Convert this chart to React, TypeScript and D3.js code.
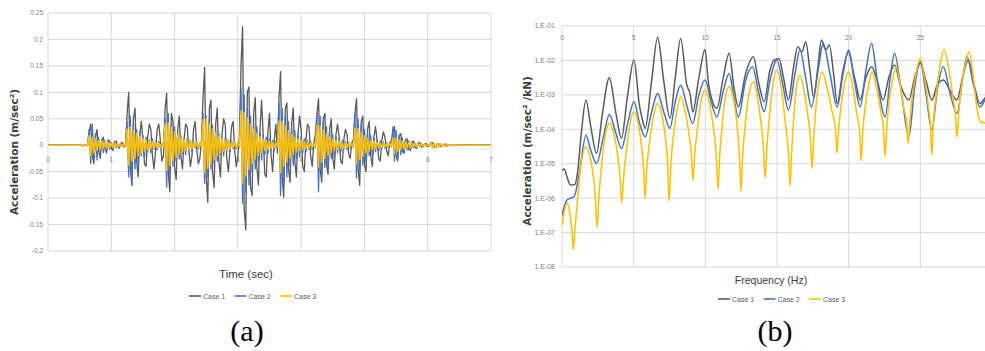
import React from 'react';
import * as d3 from 'd3';

const caseNames = ['Case 1', 'Case 2', 'Case 3'];
const caseColors = ['#5a5a5a', '#4472C4', '#FFC000'];

// (a) acceleration time history, one sample every 0.025 s from 0.5 s, in 1e-3 m/sec²
const sampleStart = 0.5;
const sampleStep = 0.025;
const timeEnd = 7;

const accCase1 = [
  0, 1, -1, 0, 1, -1,
  25, 40, -20, -35, 15, 30, -10, -25, 10, 15, -5, -15, 10, 8, -5, -10, 5, 8, 0, -6, 4, 5, -3, -2,
  60, 100, -40, -76, 50, 70, -30, -60, 20, 45, 10, -35, -40, 15, 40, 30, -20, -45, -10, 30, 40, 10, -30, -20,
  70, 98, -50, -88, 60, 45, -40, -65, 30, 55, -20, -45, 10, 40, 35, -10, -40, -20, 30, 45, -5, -35, -25, 10,
  90, 147, -60, -108, 70, 85, -50, -80, 40, 70, -30, -60, 20, 50, 40, -25, -50, -10, 35, 45, -10, -40, -20, 15,
  150, 224, -120, -160, 100, 110, -80, -95, 60, 90, -40, -75, 30, 85, 20, -55, -60, 25, 60, -20, -50, 10, 40, -15,
  90, 139, -60, -98, 70, 80, -45, -70, 40, 70, -30, -60, 20, 55, 30, -40, -50, 10, 40, 35, -20, -40, 5, 20,
  60, 88, -45, -70, 50, 60, -35, -55, 30, 50, -25, -45, 20, 40, 15, -30, -35, 10, 30, 20, -15, -25, 5, 10,
  60, 88, -45, -76, 45, 55, -35, -50, 30, 45, -20, -40, 15, 35, 10, -25, -30, 10, 25, 15, -10, -20, 5, 8,
  25, 35, -20, -30, 18, 22, -12, -15, 10, 12, -8, -10, 6, 8, -4, -6, 4, 5, -3, -3, 2, 3, -2, -1,
  4, 5, -3, -4, 3, 2, -2, -2, 1, 2, -1, -1, 1, 0, 0, 0, 0, 0, 0,
];

const accCase2 = [
  0, 1, -1, 0, 1, -1,
  30, -35, 40, -25, 22, -28, 15, -12, 10, -14, 8, -6, 7, -8, 5, -4, 6, -5, 3, -3, 4, -2, 2, -3,
  45, -60, 55, -75, 40, -45, 30, -38, 25, -20, 18, -22, 15, -12, 10, -14, 12, -8, 6, -9, 7, -5, 4, -4,
  50, -79, 60, -55, 42, -40, 35, -30, 22, -26, 18, -15, 14, -18, 12, -10, 9, -12, 8, -6, 6, -7, 5, -4,
  60, -72, 55, -60, 48, -45, 38, -35, 28, -30, 22, -18, 16, -20, 14, -12, 10, -12, 8, -7, 6, -7, 5, -4,
  108, -110, 95, -90, 70, -75, 55, -50, 42, -45, 35, -30, 25, -28, 20, -18, 15, -16, 12, -10, 9, -10, 7, -6,
  80, -95, 70, -72, 55, -60, 45, -40, 35, -38, 28, -25, 20, -22, 16, -14, 12, -13, 9, -8, 7, -8, 5, -5,
  60, -88, 55, -60, 45, -42, 35, -38, 28, -25, 20, -22, 16, -14, 12, -13, 9, -8, 7, -8, 5, -5, 4, -4,
  60, -62, 50, -48, 40, -38, 30, -32, 24, -20, 18, -19, 14, -12, 10, -11, 8, -7, 6, -6, 5, -4, 3, -3,
  35, -30, 28, -25, 20, -18, 14, -15, 10, -9, 8, -8, 6, -5, 4, -5, 3, -3, 3, -2, 2, -2, 1, -1,
  6, -5, 4, -5, 3, -3, 3, -2, 2, -2, 2, -1, 1, -1, 1, -1, 0, 0, 0,
];

const accCase3 = [
  0, 1, -1, 0, 1, -1,
  18, -20, 15, -14, 12, -10, 9, -8, 7, -6, 6, -5, 5, -4, 4, -4, 3, -3, 3, -2, 3, -2, 2, -2,
  30, -38, 34, -30, 28, -25, 22, -20, 17, -15, 13, -12, 10, -9, 8, -7, 7, -6, 5, -5, 4, -4, 4, -3,
  40, -48, 42, -38, 34, -30, 26, -23, 20, -17, 15, -13, 11, -10, 9, -8, 7, -6, 6, -5, 5, -4, 4, -3,
  48, -52, 50, -44, 40, -36, 31, -27, 23, -20, 17, -15, 13, -11, 10, -9, 8, -7, 6, -5, 5, -4, 4, -3,
  65, -72, 62, -58, 52, -46, 40, -35, 30, -26, 22, -19, 16, -14, 12, -10, 9, -8, 7, -6, 5, -5, 4, -3,
  46, -52, 45, -40, 36, -32, 28, -24, 20, -17, 15, -13, 11, -10, 9, -8, 7, -6, 5, -5, 4, -4, 3, -3,
  38, -42, 37, -32, 29, -25, 22, -19, 16, -14, 12, -10, 9, -8, 7, -6, 5, -5, 4, -4, 3, -3, 3, -2,
  33, -36, 31, -27, 24, -21, 18, -15, 13, -11, 9, -8, 7, -6, 5, -5, 4, -4, 3, -3, 3, -2, 2, -2,
  14, -16, 13, -11, 10, -9, 8, -7, 6, -5, 5, -4, 4, -3, 3, -3, 2, -2, 2, -2, 2, -1, 1, -1,
  5, -5, 4, -4, 3, -3, 3, -2, 2, -2, 2, -1, 1, -1, 1, -1, 1, 0, 0,
];

const timeTicks = [0, 1, 2, 3, 4, 5, 6, 7];
const accTicks = [0.25, 0.2, 0.15, 0.1, 0.05, 0, -0.05, -0.1, -0.15, -0.2];

// (b) frequency response, amplitude given as log10 of m/sec²/kN
const freqCase1 = [
  0, 0.15, 0.4, 0.6, 0.9, 1.1, 1.35, 1.67, 2.0, 2.41, 2.8, 3.3, 3.75, 4.15, 4.55, 5.02, 5.4, 5.6, 5.8, 6.25,
  6.67, 7.1, 7.53, 7.9, 8.28, 8.7, 8.95, 9.12, 9.55, 9.98, 10.2, 10.5, 10.8, 11.25, 11.66, 12.0, 12.3, 12.8,
  13.35, 13.7, 14.1, 14.5, 14.8, 15.15, 15.45, 15.8, 16.15, 16.45, 16.75, 17.0, 17.3, 17.55, 17.85, 18.1,
  18.4, 18.65, 18.95, 19.2, 19.6, 20.0, 20.3, 20.5, 20.8, 21.2, 21.6, 22.0, 22.4, 22.8, 23.2, 23.6, 24.2,
  24.6, 25.0, 25.4, 25.8, 26.2, 26.6, 27.1, 27.55, 28.0, 28.35, 28.75, 29.15, 29.6, 30.0,
];
const logAmpCase1 = [
  -5.2, -5.15, -5.45, -5.62, -5.6, -5.2, -4.1, -3.15, -3.9, -4.7, -3.6, -2.5, -3.5, -4.26, -3.1, -1.99, -3.3, -3.7, -3.97, -2.6,
  -1.33, -2.6, -3.68, -2.5, -1.36, -2.7, -3.0, -3.5, -2.5, -1.68, -2.6, -3.2, -3.39, -2.5, -1.79, -2.8, -3.35, -2.4,
  -1.89, -2.6, -3.2, -2.3, -1.99, -1.95, -2.5, -3.15, -2.2, -1.6, -1.75, -1.46, -2.3, -3.06, -2.2, -1.41,
  -1.7, -1.55, -2.4, -3.25, -2.3, -1.75, -2.3, -2.65, -3.15, -2.5, -2.18, -2.6, -3.15, -2.5, -2.13, -2.7, -3.15,
  -2.5, -2.08, -2.6, -3.15, -2.7, -2.57, -2.9, -3.15, -2.4, -1.99, -2.7, -3.25, -3.05, -2.9,
];

const freqCase2 = [
  0, 0.35, 0.6, 0.85, 1.2, 1.67, 2.0, 2.41, 2.9, 3.3, 3.75, 4.15, 4.6, 5.02, 5.4, 5.8, 6.25, 6.67, 7.1, 7.53,
  7.9, 8.28, 8.7, 9.12, 9.55, 9.98, 10.4, 10.8, 11.25, 11.66, 12.0, 12.3, 12.8, 13.3, 13.7, 14.1, 14.5, 15.0,
  15.4, 15.8, 16.25, 16.6, 17.0, 17.4, 17.9, 18.22, 18.7, 19.2, 19.6, 20.0, 20.4, 20.8, 21.2, 21.6, 22.0,
  22.55, 22.9, 23.2, 23.7, 24.2, 24.6, 25.0, 25.4, 25.8, 26.2, 26.6, 27.1, 27.55, 28.0, 28.25, 28.7, 29.15,
  29.6, 30.0,
];
const logAmpCase2 = [
  -6.5, -6.05, -6.0, -5.95, -5.3, -4.17, -4.6, -4.99, -4.2, -3.57, -4.1, -4.56, -3.8, -3.2, -3.8, -4.22, -3.5, -2.96, -3.5, -3.97,
  -3.2, -2.72, -3.3, -3.83, -3.0, -2.57, -3.2, -3.64, -2.9, -2.38, -3.1, -3.64, -2.6, -2.18, -2.9, -3.49, -2.6, -1.99,
  -2.7, -3.44, -2.4, -1.7, -2.5, -3.35, -2.2, -1.5, -2.4, -3.35, -2.4, -1.7, -2.6, -3.35, -2.3, -1.5, -2.6,
  -3.64, -2.5, -1.79, -3.0, -4.22, -2.8, -2.04, -3.0, -4.02, -2.8, -2.18, -3.0, -3.54, -2.4, -1.89, -2.7, -3.35,
  -3.1, -3.0,
];

const freqCase3 = [
  0, 0.35, 0.6, 0.7, 0.78, 0.88, 1.05, 1.3, 1.67, 2.0, 2.2, 2.33, 2.45, 2.57, 2.75, 3.0, 3.3, 3.65, 3.9, 4.05,
  4.17, 4.3, 4.5, 4.7, 5.02, 5.35, 5.55, 5.7, 5.8, 5.9, 6.1, 6.35, 6.67, 7.0, 7.2, 7.37, 7.47, 7.6, 7.8, 8.0,
  8.28, 8.6, 8.85, 9.02, 9.14, 9.26, 9.45, 9.65, 9.98, 10.3, 10.55, 10.77, 10.89, 11.0, 11.15, 11.35, 11.66,
  12.0, 12.2, 12.38, 12.49, 12.6, 12.8, 13.0, 13.35, 13.65, 13.85, 14.05, 14.17, 14.3, 14.5, 14.7, 14.98,
  15.3, 15.55, 15.8, 15.91, 16.02, 16.2, 16.35, 16.6, 16.9, 17.15, 17.34, 17.45, 17.56, 17.75, 17.9, 18.14,
  18.5, 18.85, 19.08, 19.19, 19.3, 19.5, 19.7, 19.98, 20.3, 20.55, 20.77, 20.87, 20.98, 21.2, 21.4, 21.63,
  21.95, 22.25, 22.43, 22.54, 22.65, 22.85, 23.05, 23.3, 23.6, 23.85, 24.04, 24.15, 24.26, 24.45, 24.7, 24.98,
  25.3, 25.55, 25.7, 25.8, 25.9, 26.1, 26.35, 26.66, 27.0, 27.25, 27.45, 27.56, 27.67, 27.85, 28.1, 28.4,
  28.7, 28.95, 29.2, 29.6, 30.0,
];
const logAmpCase3 = [
  -6.8, -6.15, -6.6, -7.0, -7.5, -7.0, -6.2, -5.1, -4.51, -4.9, -5.4, -6.0, -6.85, -6.0, -5.1, -4.2, -3.83, -4.2, -4.8, -5.4,
  -6.15, -5.4, -4.6, -3.95, -3.49, -3.9, -4.5, -5.2, -6.0, -5.2, -4.4, -3.7, -3.25, -3.65, -4.2, -5.0, -6.09, -5.0, -4.1, -3.5,
  -3.06, -3.5, -4.1, -4.7, -5.48, -4.7, -4.0, -3.3, -2.86, -3.3, -3.9, -4.8, -5.74, -4.8, -4.0, -3.2, -2.76,
  -3.2, -3.8, -4.8, -5.8, -4.8, -3.8, -3.1, -2.62, -3.1, -3.7, -4.5, -5.42, -4.5, -3.5, -2.75, -2.28,
  -2.8, -3.7, -4.7, -5.65, -4.7, -3.5, -2.8, -2.42, -2.9, -3.6, -4.3, -5.13, -4.3, -3.2, -2.7, -2.33,
  -2.8, -3.5, -4.0, -4.69, -4.0, -3.2, -2.7, -2.33, -2.8, -3.5, -4.1, -4.92, -4.1, -3.2, -2.7, -2.33,
  -2.8, -3.5, -4.0, -4.78, -4.0, -3.1, -2.6, -2.18, -2.7, -3.4, -3.8, -4.41, -3.8, -3.0, -2.4, -1.94,
  -2.5, -3.3, -3.9, -4.75, -3.9, -3.0, -2.2, -1.7, -2.3, -3.0, -3.6, -4.23, -3.6, -2.8, -2.2, -1.75,
  -2.5, -3.4, -3.78, -3.82, -3.75,
];

const freqTicks = [0, 5, 10, 15, 20, 25];
const freqMax = 30;
const decadeTicks = [-1, -2, -3, -4, -5, -6, -7, -8];

const W = 985;
const H = 351;
const gridColor = '#d9d9d9';
const tickColor = '#808080';
const titleColor = '#404040';
const narrow = "'Liberation Sans Narrow', 'Liberation Sans', sans-serif";

type Pt = [number, number];

function Legend({ x, y }: { x: number; y: number }) {
  return (
    <g transform={`translate(${x},${y})`}>
      {caseNames.map((name, i) => (
        <g key={name} transform={`translate(${i * 45.5},0)`}>
          <line x1={0} x2={12} y1={0} y2={0} stroke={caseColors[i]} strokeWidth={1.6} />
          <text x={14} y={2.5} fontSize={7} fill="#595959" fontFamily={narrow}>{name}</text>
        </g>
      ))}
    </g>
  );
}

export default function App() {
  // ---- panel (a)
  const xa = d3.scaleLinear().domain([0, timeEnd]).range([48, 491]);
  const ya = d3.scaleLinear().domain([-0.2, 0.25]).range([251, 13]);
  const toSeries = (vals: number[]): Pt[] => {
    const pts: Pt[] = [[0, 0]];
    vals.forEach((v, i) => pts.push([sampleStart + i * sampleStep, v / 1000]));
    pts.push([timeEnd, 0]);
    return pts;
  };
  const timeSeries = [accCase1, accCase2, accCase3].map(toSeries);
  const lineA = d3.line<Pt>().x((d) => xa(d[0])).y((d) => ya(d[1]));

  // ---- panel (b)
  const xb = d3.scaleLinear().domain([0, freqMax]).range([562, 992]);
  const yb = d3.scaleLog().domain([1e-8, 1e-1]).range([267, 26]);
  const freqSeries: Pt[][] = [
    [freqCase1, logAmpCase1],
    [freqCase2, logAmpCase2],
    [freqCase3, logAmpCase3],
  ].map(([fs, ls]) => fs.map((f, i) => [f, Math.pow(10, ls[i])] as Pt));
  const lineB = d3
    .line<Pt>()
    .x((d) => xb(d[0]))
    .y((d) => yb(d[1]))
    .curve(d3.curveMonotoneX);

  const [a0, a1] = ya.range();
  const [b0, b1] = yb.range();

  return (
    <svg
      width={W}
      height={H}
      style={{ position: 'absolute', left: 0, top: 0, background: '#fff' }}
    >
      <defs>
        <clipPath id="clipB">
          <rect x={xb(0)} y={0} width={W - xb(0)} height={H} />
        </clipPath>
      </defs>

      {/* ===== (a) ===== */}
      <g>
        {accTicks.map((v) => (
          <line key={v} x1={xa(0)} x2={xa(timeEnd)} y1={ya(v)} y2={ya(v)} stroke={gridColor} />
        ))}
        {timeTicks.map((t) => (
          <line key={t} x1={xa(t)} x2={xa(t)} y1={a1} y2={a0} stroke={gridColor} />
        ))}
        {accTicks.map((v) => (
          <text key={v} x={43} y={ya(v)} dy="0.35em" textAnchor="end" fontSize={6.5} fill={tickColor} fontFamily={narrow}>
            {String(v)}
          </text>
        ))}
        {timeTicks.map((t) => (
          <text key={t} x={xa(t)} y={ya(0) + 16.5} textAnchor="middle" fontSize={6.5} fill={tickColor} fontFamily={narrow}>
            {t}
          </text>
        ))}
        {timeSeries.map((s, i) => (
          <path
            key={i}
            d={lineA(s) || ''}
            fill="none"
            stroke={caseColors[i]}
            strokeWidth={i === 2 ? 1.5 : 1.3}
            strokeLinejoin="round"
          />
        ))}
        <text
          transform={`translate(18,152) rotate(-90)`}
          textAnchor="middle"
          fontSize={10.5}
          fontWeight="bold"
          fill={titleColor}
          fontFamily="'DejaVu Sans', sans-serif"
        >
          Acceleration (m/sec²)
        </text>
        <text x={246} y={278} textAnchor="middle" fontSize={11.5} fill={titleColor} fontFamily={narrow}>
          Time (sec)
        </text>
        <Legend x={189} y={296} />
        <text x={247} y={341} textAnchor="middle" fontSize={30} fill="#000" fontFamily="'Liberation Serif', serif">
          (a)
        </text>
      </g>

      {/* ===== (b) ===== */}
      <g>
        {decadeTicks.map((d) => (
          <line key={d} x1={xb(0)} x2={W} y1={yb(Math.pow(10, d))} y2={yb(Math.pow(10, d))} stroke={gridColor} />
        ))}
        {freqTicks.map((f) => (
          <line key={f} x1={xb(f)} x2={xb(f)} y1={b1} y2={b0} stroke={gridColor} />
        ))}
        {decadeTicks.map((d) => (
          <text
            key={d}
            x={555}
            y={yb(Math.pow(10, d))}
            dy="0.35em"
            textAnchor="end"
            fontSize={7}
            fill={tickColor}
            fontFamily={narrow}
          >
            {`1.E-0${-d}`}
          </text>
        ))}
        {freqTicks.map((f) => (
          <text key={f} x={xb(f)} y={yb(1e-1) + 13.5} textAnchor="middle" fontSize={6.5} fill={tickColor} fontFamily={narrow}>
            {f}
          </text>
        ))}
        <g clipPath="url(#clipB)">
          {freqSeries.map((s, i) => (
            <path key={i} d={lineB(s) || ''} fill="none" stroke={caseColors[i]} strokeWidth={1.5} strokeLinejoin="round" />
          ))}
        </g>
        <text
          transform={`translate(531,151) rotate(-90)`}
          textAnchor="middle"
          fontSize={10.5}
          fontWeight="bold"
          fill={titleColor}
          fontFamily="'DejaVu Sans', sans-serif"
        >
          Acceleration (m/sec² /kN)
        </text>
        <text x={771} y={284} textAnchor="middle" fontSize={10.5} fill={titleColor} fontFamily={narrow}>
          Frequency (Hz)
        </text>
        <Legend x={718} y={299} />
        <text x={775} y={341} textAnchor="middle" fontSize={30} fill="#000" fontFamily="'Liberation Serif', serif">
          (b)
        </text>
      </g>
    </svg>
  );
}
